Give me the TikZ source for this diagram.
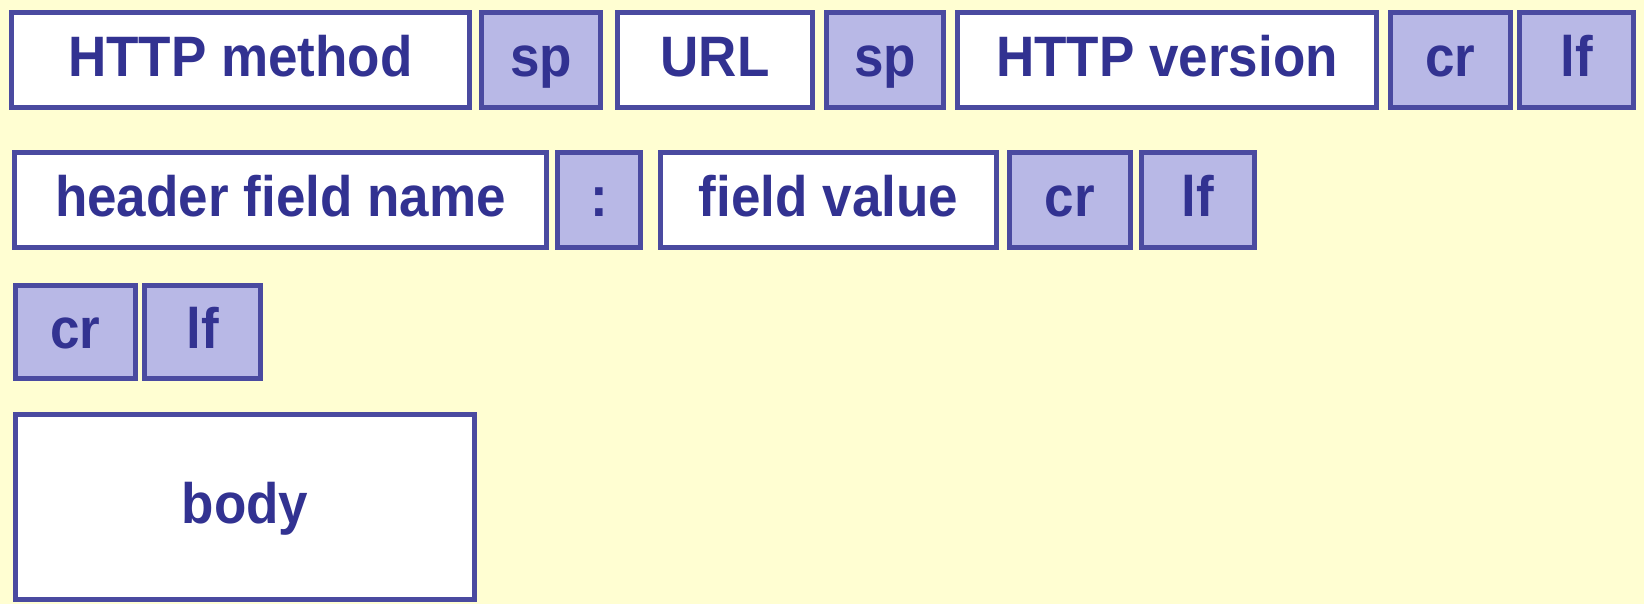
\documentclass[tikz,border=0pt]{standalone}
\usepackage{fontspec}
\setmainfont{Liberation Sans}[FakeStretch=0.93]
\usepackage{tikz}
\definecolor{paper}{RGB}{255,254,210}
\definecolor{edge}{RGB}{74,74,160}
\definecolor{ink}{RGB}{50,50,145}
\definecolor{lav}{RGB}{184,184,230}

\begin{document}
\begin{tikzpicture}[x=1pt, y=-1pt,
	field/.style={draw=edge, line width=5pt, fill=white, text=ink,
		font=\fontsize{57}{60}\selectfont\bfseries,
		text height=41pt, text depth=8pt, inner sep=0pt, minimum height=95pt},
	ctrl/.style={field, fill=lav}]
			%%%%% START %%%%%
			
			\fill[paper] (0, 0) rectangle (1644, 604);
			
			% request line
			\node[field, minimum width=458pt] (meth) at (240.5, 60) {HTTP method};
			\node[ctrl, minimum width=119pt] (sp1) at (541, 60) {sp};
			\node[field, minimum width=195pt] (url) at (715, 60) {URL};
			\node[ctrl, minimum width=117pt] (sp2) at (885, 60) {sp};
			\node[field, minimum width=419pt] (ver) at (1167, 60) {HTTP version};
			\node[ctrl, minimum width=120pt] (cr1) at (1450.5, 60) {cr};
			\node[ctrl, minimum width=114pt] (lf1) at (1576.5, 60) {lf};
			
			% header line
			\node[field, minimum width=532pt] (hname) at (280.5, 200) {header field name};
			\node[ctrl, minimum width=83pt] (colon) at (599, 200) {:};
			\node[field, minimum width=336pt] (fval) at (828.5, 200) {field value};
			\node[ctrl, minimum width=121pt] (cr2) at (1070, 200) {cr};
			\node[ctrl, minimum width=113pt] (lf2) at (1198, 200) {lf};
			
			% blank line
			\node[ctrl, minimum width=120pt, minimum height=93pt] (cr3) at (75.5, 332) {cr};
			\node[ctrl, minimum width=116pt, minimum height=93pt] (lf3) at (202.5, 332) {lf};
			
			% body
			\node[field, minimum width=459pt, minimum height=185pt] (body) at (245, 507) {body};
			
			%%%%% END %%%%%
\end{tikzpicture}
\end{document}
